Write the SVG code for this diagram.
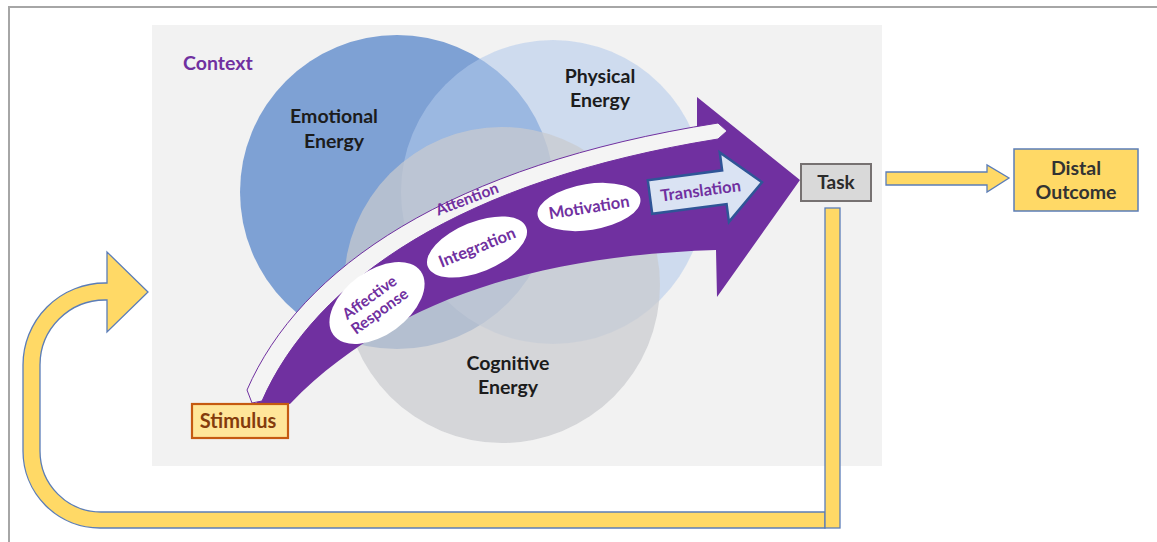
<svg xmlns="http://www.w3.org/2000/svg" width="1157" height="542" viewBox="0 0 1157 542">
  <style>
    text { font-family: Lato, "Open Sans", "Liberation Sans", sans-serif; font-weight: 700; }
    .lbl { font-size: 19.5px; fill: #1c1c1c; text-anchor: middle; }
    .step { font-size: 16.5px; fill: #7030a0; text-anchor: middle; }
    .oval { fill: #ffffff; }
    .yellow { fill: #ffd966; stroke: #5b7db8; stroke-width: 1.3; }
  </style>

  <!-- outer frame -->
  <rect x="9" y="7" width="1170" height="600" fill="#ffffff" stroke="#a6a6a6" stroke-width="2"/>

  <!-- context panel -->
  <g id="context">
    <rect x="152" y="25" width="730" height="441" fill="#f2f2f2"/>
    <text x="183" y="70" style="font-size:19.5px;fill:#7030a0">Context</text>
  </g>

  <!-- energy circles -->
  <g id="emotional">
    <circle cx="397" cy="192" r="157" fill="#7ea1d4"/>
  </g>
  <g id="physical">
    <circle cx="553" cy="192" r="152" fill="#b3c9eb" fill-opacity="0.56"/>
  </g>
  <g id="cognitive">
    <circle cx="502" cy="285" r="158" fill="#c9cbce" fill-opacity="0.72"/>
  </g>
  <text class="lbl" x="334" y="123">Emotional</text>
  <text class="lbl" x="334" y="148">Energy</text>
  <text class="lbl" x="600" y="83">Physical</text>
  <text class="lbl" x="600" y="107">Energy</text>
  <text class="lbl" x="508" y="370">Cognitive</text>
  <text class="lbl" x="508" y="394">Energy</text>

  <!-- main process arrow -->
  <g id="process">
    <path d="M256,404 C308,282 455,175 697,131 L697,97 L800,180 L717,297 L716,250 C560,255 400,290 290,404 Z" fill="#7030a0"/>
  </g>

  <!-- attention band -->
  <g id="attention">
    <path d="M247,390 C300,268 450,165 718,123 L727,131 L718,139 C462,180 315,280 262,401 L252,403 Z" fill="#f4f4f4" stroke="#7030a0" stroke-width="1"/>
    <text class="step" x="0" y="0" style="font-size:15.5px" transform="translate(469,204) rotate(-21)">Attention</text>
  </g>

  <!-- process steps -->
  <g id="affective">
    <ellipse cx="0" cy="0" rx="54" ry="32" class="oval" transform="translate(377,303) rotate(-36)"/>
    <g transform="translate(375,305) rotate(-36)">
      <text class="step" x="0" y="-4" style="font-size:15.5px">Affective</text>
      <text class="step" x="0" y="13" style="font-size:15.5px">Response</text>
    </g>
  </g>
  <g id="integration">
    <ellipse cx="0" cy="0" rx="53" ry="25" class="oval" transform="translate(477,247) rotate(-22)"/>
    <text class="step" x="0" y="6" transform="translate(477,247) rotate(-22)">Integration</text>
  </g>
  <g id="motivation">
    <ellipse cx="0" cy="0" rx="52" ry="23" class="oval" transform="translate(589,207) rotate(-9)"/>
    <text class="step" x="0" y="6" transform="translate(589,207) rotate(-9)">Motivation</text>
  </g>
  <g id="translation" transform="translate(650,197) rotate(-7.5)">
    <polygon points="0,-17 75,-17 75,-35 113,0 75,35 75,17 0,17" fill="#dae3f3" stroke="#2f5597" stroke-width="2.5" stroke-linejoin="miter"/>
    <text class="step" x="51" y="6">Translation</text>
  </g>

  <!-- boxes -->
  <g id="stimulus">
    <rect x="192" y="404" width="96" height="34" fill="#ffe699" stroke="#c55a11" stroke-width="2.2"/>
    <text x="238" y="428" style="font-size:20px;fill:#843c0c;text-anchor:middle">Stimulus</text>
  </g>
  <g id="task">
    <rect x="801" y="164" width="70" height="37" fill="#d9d9d9" stroke="#767171" stroke-width="2"/>
    <text x="836" y="189" style="font-size:19px;fill:#2b2b2b;text-anchor:middle">Task</text>
  </g>
  <g id="distal">
    <rect x="1014" y="149" width="124" height="62" fill="#ffd966" stroke="#5b7db8" stroke-width="1.5"/>
    <text class="lbl" x="1076" y="175" style="fill:#333333">Distal</text>
    <text class="lbl" x="1076" y="199" style="fill:#333333">Outcome</text>
  </g>

  <!-- connectors -->
  <g id="connectors">
    <polygon class="yellow" points="886,172 987,172 987,165 1009,178 987,192 987,185 886,185"/>
    <path class="yellow" d="M825,528 L100,528 A77,77 0 0 1 23,451 L23,365 A82,82 0 0 1 105,283 L107,283 L107,252 L148,292 L107,332 L107,300 L105,300 A65,65 0 0 0 40,365 L40,451 A61,61 0 0 0 101,512 L825,512 Z"/>
    <rect class="yellow" x="825" y="208" width="15" height="320"/>
  </g>
</svg>
